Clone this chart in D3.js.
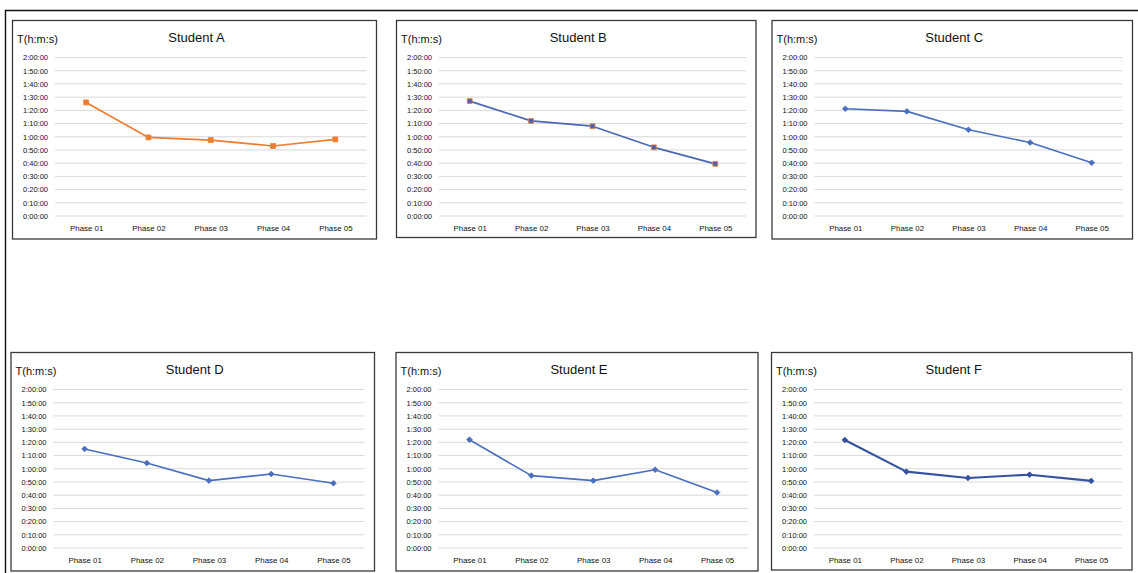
<!DOCTYPE html>
<html>
<head>
<meta charset="utf-8">
<script src="https://cdn.jsdelivr.net/npm/d3@7"></script>
<style>
  html, body { margin: 0; padding: 0; background: #fff; }
  svg { display: block; }
  text { font-family: "Liberation Sans", Arial, sans-serif; fill: #111; }
</style>
</head>
<body>
<svg id="chart" width="1138" height="573"></svg>
<script>
// Completion time per phase, in minutes
const phases = ["Phase 01", "Phase 02", "Phase 03", "Phase 04", "Phase 05"];
const studentA = [86, 59.5, 57.5, 53, 58];
const studentB = [87, 72, 68, 52, 39.5];
const studentC = [81.2, 79.2, 65.3, 55.6, 40.3];
const studentD = [75, 64.3, 51, 56, 49];
const studentE = [82, 54.8, 51, 59.3, 42];
const studentF = [81.8, 57.8, 53, 55.5, 50.8];
const yTicks = [0, 10, 20, 30, 40, 50, 60, 70, 80, 90, 100, 110, 120];
const yAxisLabel = "T(h:m:s)";

const panels = [
  { title: "Student A", values: studentA, box: [12.5, 20.5, 364, 218.5], color: "#ed7d31", marker: "square", fill: "#ed7d31", edge: "#ed7d31", lw: 1.7 },
  { title: "Student B", values: studentB, box: [396.5, 20.5, 359.5, 217], color: "#4a67b3", marker: "square", fill: "#5060a8", edge: "#e3874a", lw: 1.7 },
  { title: "Student C", values: studentC, box: [772, 20.5, 360.5, 218.5], color: "#4a6fbf", marker: "diamond", fill: "#4a6fbf", edge: "#4a6fbf", lw: 1.6 },
  { title: "Student D", values: studentD, box: [11, 352.5, 363.5, 218.5], color: "#4a6fbf", marker: "diamond", fill: "#4a6fbf", edge: "#4a6fbf", lw: 1.6 },
  { title: "Student E", values: studentE, box: [396, 352.5, 362, 218.5], color: "#4a6fbf", marker: "diamond", fill: "#4a6fbf", edge: "#4a6fbf", lw: 1.6 },
  { title: "Student F", values: studentF, box: [771.5, 352.5, 360.5, 217.5], color: "#34529e", marker: "diamond", fill: "#34529e", edge: "#34529e", lw: 2.1 }
];

// minutes -> h:mm:ss
function hms(m) {
  const total = Math.round(m * 60);
  const h = Math.floor(total / 3600);
  const mm = Math.floor((total % 3600) / 60);
  const ss = total % 60;
  return h + ":" + String(mm).padStart(2, "0") + ":" + String(ss).padStart(2, "0");
}

const svg = d3.select("#chart");

// outer frame around the figure (top and left rules)
svg.append("path")
  .attr("d", "M5.5,573 L5.5,10.5 L1138,10.5")
  .attr("fill", "none").attr("stroke", "#111").attr("stroke-width", 1.4);

panels.forEach(p => {
  const [px, py, pw, ph] = p.box;
  const g = svg.append("g").attr("transform", `translate(${px},${py})`);

  g.append("rect")
    .attr("x", 0).attr("y", 0).attr("width", pw).attr("height", ph)
    .attr("fill", "#fff").attr("stroke", "#3a3a3a").attr("stroke-width", 1.3);

  const left = 42.5, right = pw - 10, top = 37, bottom = 195.5;

  const x = d3.scalePoint().domain(phases).range([left, right]).padding(0.5);
  const y = d3.scaleLinear().domain([0, 120]).range([bottom, top]);

  // horizontal gridlines
  g.append("g").selectAll("line").data(yTicks).join("line")
    .attr("x1", left).attr("x2", right)
    .attr("y1", d => y(d)).attr("y2", d => y(d))
    .attr("stroke", "#d9d9d9").attr("stroke-width", 1);

  // y axis labels
  const yAxis = d3.axisLeft(y).tickValues(yTicks).tickFormat(hms).tickSize(0).tickPadding(7);
  const ya = g.append("g").attr("transform", `translate(${left},0)`).call(yAxis);
  ya.select(".domain").remove();
  ya.selectAll("text").attr("font-size", 7.5).attr("fill", "#111")
    .attr("font-family", "Liberation Sans, Arial, sans-serif");

  // x axis labels
  const xAxis = d3.axisBottom(x).tickSize(0).tickPadding(9);
  const xa = g.append("g").attr("transform", `translate(0,${bottom})`).call(xAxis);
  xa.select(".domain").remove();
  xa.selectAll("text").attr("font-size", 7.9).attr("fill", "#111")
    .attr("font-family", "Liberation Sans, Arial, sans-serif");

  // title and axis caption
  g.append("text").attr("x", pw / 2 + 2).attr("y", 21.5)
    .attr("text-anchor", "middle").attr("font-size", 13).text(p.title);
  g.append("text").attr("x", 4.5).attr("y", 22)
    .attr("font-size", 11).text(yAxisLabel);

  // series line
  const pts = phases.map((ph, i) => [x(ph), y(p.values[i])]);
  g.append("path")
    .attr("d", d3.line()(pts))
    .attr("fill", "none").attr("stroke", p.color)
    .attr("stroke-width", p.lw).attr("stroke-linejoin", "round");

  // markers: squares, or squares turned 45° for diamonds
  const isSquare = p.marker === "square";
  g.append("g").selectAll("path").data(pts).join("path")
    .attr("transform", d => `translate(${d[0]},${d[1]}) rotate(${isSquare ? 0 : 45})`)
    .attr("d", d3.symbol().type(d3.symbolSquare).size(isSquare ? 24 : 16))
    .attr("fill", p.fill).attr("stroke", p.edge).attr("stroke-width", 0.8);
});
</script>
</body>
</html>
